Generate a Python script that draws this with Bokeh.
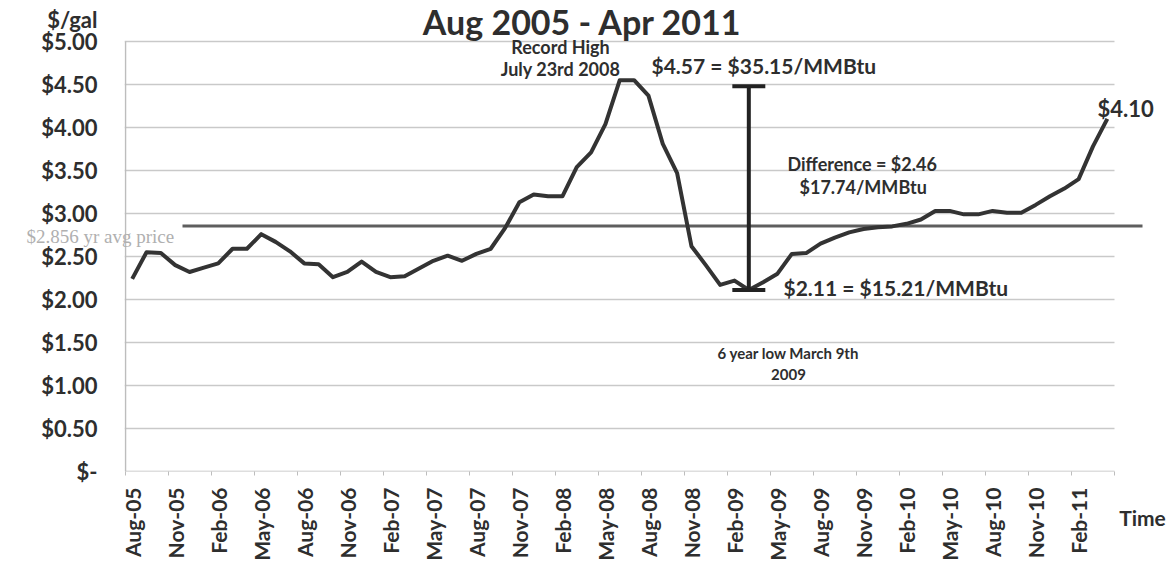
import math
from bokeh.plotting import figure
from bokeh.models import FixedTicker, Label, Range1d, ColumnDataSource, LinearAxis
from bokeh.embed import file_html
from bokeh.resources import INLINE

# ---------------- data ----------------
months = [
    "Aug-05", "Sep-05", "Oct-05", "Nov-05", "Dec-05", "Jan-06", "Feb-06", "Mar-06", "Apr-06", "May-06",
    "Jun-06", "Jul-06", "Aug-06", "Sep-06", "Oct-06", "Nov-06", "Dec-06", "Jan-07", "Feb-07", "Mar-07",
    "Apr-07", "May-07", "Jun-07", "Jul-07", "Aug-07", "Sep-07", "Oct-07", "Nov-07", "Dec-07", "Jan-08",
    "Feb-08", "Mar-08", "Apr-08", "May-08", "Jun-08", "Jul-08", "Aug-08", "Sep-08", "Oct-08", "Nov-08",
    "Dec-08", "Jan-09", "Feb-09", "Mar-09", "Apr-09", "May-09", "Jun-09", "Jul-09", "Aug-09", "Sep-09",
    "Oct-09", "Nov-09", "Dec-09", "Jan-10", "Feb-10", "Mar-10", "Apr-10", "May-10", "Jun-10", "Jul-10",
    "Aug-10", "Sep-10", "Oct-10", "Nov-10", "Dec-10", "Jan-11", "Feb-11", "Mar-11", "Apr-11",
]
prices = [
    2.24, 2.55, 2.54, 2.40, 2.32, 2.37, 2.42, 2.59, 2.59, 2.76,
    2.67, 2.56, 2.42, 2.41, 2.26, 2.32, 2.44, 2.32, 2.26, 2.27,
    2.36, 2.45, 2.51, 2.45, 2.53, 2.59, 2.83, 3.13, 3.22, 3.20,
    3.20, 3.54, 3.71, 4.04, 4.55, 4.55, 4.37, 3.81, 3.47, 2.62,
    2.40, 2.17, 2.22, 2.11, 2.20, 2.30, 2.53, 2.54, 2.65, 2.72,
    2.78, 2.82, 2.84, 2.85, 2.88, 2.93, 3.03, 3.03, 2.99, 2.99,
    3.03, 3.01, 3.01, 3.10, 3.20, 3.29, 3.40, 3.78, 4.10,
]
avg_price = 2.856
high_price = 4.48      # top of the difference bar as drawn
low_price = 2.11
low_month = "Mar-09"

y_ticks = [0, 0.5, 1.0, 1.5, 2.0, 2.5, 3.0, 3.5, 4.0, 4.5, 5.0]
y_tick_labels = ["$-", "$0.50", "$1.00", "$1.50", "$2.00", "$2.50",
                 "$3.00", "$3.50", "$4.00", "$4.50", "$5.00"]
unit_label = "$/gal"
avg_label = "$2.856 yr avg price"
time_label = "Time"
last_label = "$4.10"

# ---------------- layout helpers (pixel -> data for annotations) ----------------
X0_PX, DX_PX = 131.7, 14.34     # px position of first month, px per month
ZERO_PX, DY_PX = 471.0, 86.0    # px position of $0, px per $1
FRAME_RIGHT = 1142


def X(px):
    return (px - X0_PX) / DX_PX


def Y(py):
    return (ZERO_PX - py) / DY_PX


FONT = "Lato"
TXT = "#2e2e2e"
idx = list(range(len(months)))

p = figure(width=1168, height=565, output_backend="svg", toolbar_location=None,
           x_range=Range1d(X(124), X(FRAME_RIGHT)), y_range=Range1d(0, Y(0)),
           min_border_left=124, min_border_right=1168 - FRAME_RIGHT, min_border_top=0,
           min_border_bottom=94)
p.outline_line_color = None
p.xgrid.visible = False
p.ygrid.visible = False
p.background_fill_color = "white"
p.border_fill_color = "white"

last_cat = len(months) - 0.5  # right end of the category area

# gridlines
grid_y = [v for v in y_ticks if v > 0]
p.segment(x0=[X(124)] * len(grid_y), x1=[last_cat] * len(grid_y), y0=grid_y, y1=grid_y,
          line_color="#c9c9c9", line_width=1.5)
# axis lines
p.segment(x0=[-0.5], x1=[last_cat], y0=[0], y1=[0], line_color="#bdbdbd", line_width=1.5)
p.segment(x0=[X(125)], x1=[X(125)], y0=[0], y1=[y_ticks[-1]], line_color="#bdbdbd", line_width=1.5)

# average line
p.segment(x0=[X(182)], x1=[X(1170)], y0=[avg_price], y1=[avg_price],
          line_color="#5e5e5e", line_width=3)

# price line
src = ColumnDataSource(dict(x=idx, y=prices))
p.line("x", "y", source=src, line_color="#333333", line_width=4, line_join="round")

# difference bar (T shape)
li = months.index(low_month)
p.segment(x0=[li], x1=[li], y0=[low_price], y1=[high_price], line_color="#222222", line_width=4)
p.segment(x0=[li - 1.15, li - 1.15], x1=[li + 1.15, li + 1.15],
          y0=[high_price, low_price], y1=[high_price, low_price],
          line_color="#222222", line_width=4)

# ---------------- axes ----------------
xt = list(range(0, len(months) - 2, 3))
p.xaxis.ticker = FixedTicker(ticks=xt, minor_ticks=[t - 0.5 for t in xt] + [xt[-1] + 2.5])
p.xaxis.major_label_overrides = {t: months[t] for t in xt}
p.xaxis.major_label_orientation = math.pi / 2
p.xaxis.axis_line_color = None
p.xaxis.major_tick_line_color = None
p.xaxis.major_tick_out = 0
p.xaxis.major_tick_in = 0
p.xaxis.minor_tick_line_color = "#bdbdbd"
p.xaxis.minor_tick_out = 4
p.xaxis.minor_tick_in = 0
p.xaxis.major_label_standoff = 12
p.xaxis.major_label_text_font = FONT
p.xaxis.major_label_text_font_style = "bold"
p.xaxis.major_label_text_font_size = "21px"
p.xaxis.major_label_text_color = TXT

unit_tick = Y(19)
p.yaxis.ticker = FixedTicker(ticks=y_ticks + [unit_tick])
ov = {t: s for t, s in zip(y_ticks, y_tick_labels)}
ov[unit_tick] = unit_label
p.yaxis.major_label_overrides = ov
p.yaxis.axis_line_color = None
p.yaxis.major_tick_line_color = None
p.yaxis.major_tick_out = 0
p.yaxis.major_tick_in = 0
p.yaxis.minor_tick_line_color = None
p.yaxis.major_label_standoff = 27
p.yaxis.major_label_text_font = FONT
p.yaxis.major_label_text_font_style = "bold"
p.yaxis.major_label_text_font_size = "22px"
p.yaxis.major_label_text_color = TXT

# right axis carrying the end-value label next to the last point
end_tick = Y(108)
ra = LinearAxis(ticker=FixedTicker(ticks=[end_tick]),
                major_label_overrides={end_tick: last_label},
                axis_line_color=None, major_tick_line_color=None, minor_tick_line_color=None,
                major_tick_out=0, major_tick_in=0, major_label_standoff=-45,
                major_label_text_font=FONT, major_label_text_font_style="bold",
                major_label_text_font_size="22px", major_label_text_color=TXT)
p.add_layout(ra, "right")

xa = p.xaxis[0]
ya = p.yaxis[0]
if "axis_label_align" in xa.properties():
    xa.axis_label = time_label
    xa.axis_label_align = "end"
    xa.axis_label_standoff = -59
    xa.axis_label_text_font = FONT
    xa.axis_label_text_font_style = "bold"
    xa.axis_label_text_font_size = "21px"
    xa.axis_label_text_color = TXT
if "axis_label_orientation" in ya.properties():
    ya.axis_label = avg_label
    ya.axis_label_orientation = "horizontal"
    ya.axis_label_standoff = -136
    ya.axis_label_text_font = "Liberation Serif"
    ya.axis_label_text_font_style = "normal"
    ya.axis_label_text_font_size = "19px"
    ya.axis_label_text_color = "#b0b0b0"


# ---------------- annotations ----------------
def lab(text, px, py, size, align="left", bold=True, color=TXT, font=FONT, baseline="middle", lh=None):
    lbl = Label(x=X(px), y=Y(py), text=text, text_align=align, text_baseline=baseline,
                text_font=font, text_font_size=size,
                text_font_style="bold" if bold else "normal", text_color=color)
    if lh is not None:
        lbl.text_line_height = lh
    p.add_layout(lbl)


lab("Aug 2005 - Apr 2011", 582, 21, "34px", align="center", lh=1.0)
lab("Record High", 560, 46, "18px", align="center")
lab("July 23rd 2008", 560, 68, "18px", align="center")
lab("$4.57 = $35.15/MMBtu", 651, 65, "21px")
lab("Difference = $2.46", 787, 163, "18px")
lab("$17.74/MMBtu", 799, 186, "18px")
lab("$2.11 = $15.21/MMBtu", 783, 287, "21px")
lab("6 year low March 9th", 788, 352, "15px", align="center")
lab("2009", 788, 374, "15px", align="center")

open("out.html", "w").write(file_html(p, INLINE))
